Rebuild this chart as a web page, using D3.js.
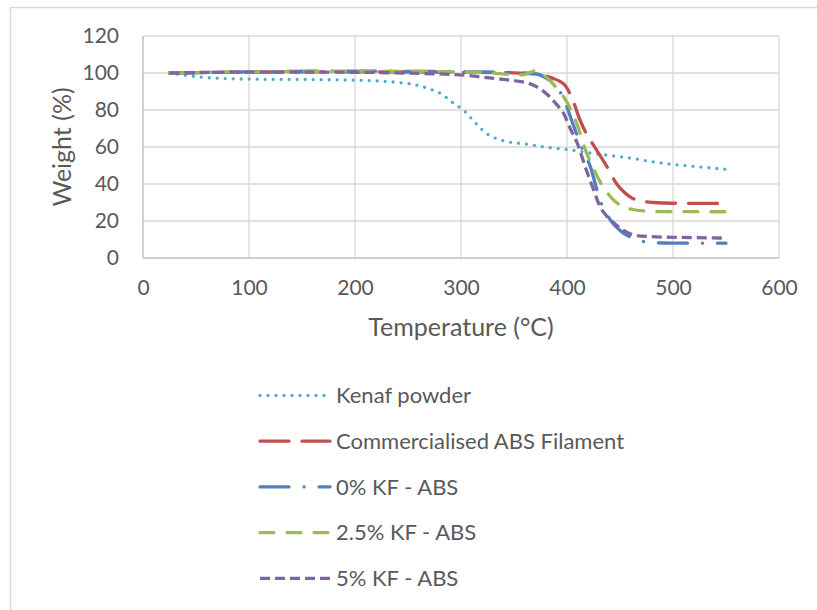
<!DOCTYPE html>
<html>
<head>
<meta charset="utf-8">
<script src="https://cdn.jsdelivr.net/npm/d3@7"></script>
<style>
  body { margin: 0; background: #fff; }
  text { font-family: Lato, "Open Sans", sans-serif; fill: #595959; }
</style>
</head>
<body>
<div id="chart"></div>
<script>
// weight (%) vs temperature (°C)
var kenaf = [[25,100],[38,98.9],[61,97.5],[99,96.7],[170,96.4],[221,95.7],[242,94.8],[258,93.5],[272,91],[282,88.5],
  [291,84.5],[304,79],[314,72.8],[325,67],[340,63.4],[362,61.5],[384,59.6],[400,58.7],[428,56.3],[460,54],
  [481,52],[500,50.6],[520,49.5],[549,48]];
var commercial = [[25,100],[60,100.3],[100,100.5],[200,100.6],[300,100.4],[350,100.1],[370,99.5],[385,97.5],[398,93.5],
  [405,86],[412,75],[418,67.5],[425,61],[436,51],[447,40],[454,35.5],[461,32.5],[470,30.8],[481,30],[500,29.6],[550,29.5]];
var kf0 = [[25,100],[100,100.6],[200,101],[300,100.7],[350,100.3],[370,99.6],[381,97],[390,92.6],[397,86],[404,75],
  [413,61],[422,49.4],[431,31.5],[441,20.5],[452,14],[463,10.5],[475,8.6],[490,8.1],[507,8],[550,8]];
var kf25 = [[25,100],[100,100.6],[200,101],[300,100.6],[330,100],[345,99.2],[358,99],[365,100.3],[370,101.2],[376,99.5],
  [383,96.5],[390,92],[397,87],[403,81],[409,73],[418,57.5],[426,47],[434,38.5],[442,32.5],[450,28.6],[460,26.5],
  [469,25.6],[490,25.1],[550,25]];
var kf5 = [[25,100],[100,100.5],[200,100.4],[250,99.9],[299,99],[320,97.8],[340,96.5],[355,95.5],[368,93.5],[377,90.5],
  [384,87],[391,82.5],[397,78],[403,70],[409,63],[418,48],[425,37],[431,28],[437,23],[444,19],[453,15],[463,12.4],
  [480,11.5],[500,11.2],[550,10.8]];

var names = ["Kenaf powder", "Commercialised ABS Filament", "0% KF - ABS", "2.5% KF - ABS", "5% KF - ABS"];
var xTicks = [0, 100, 200, 300, 400, 500, 600];
var yTicks = [0, 20, 40, 60, 80, 100, 120];

var series = [
  { name: names[0], data: kenaf,      color: "#4bacc6", width: 3.3,  dash: "0 8",            cap: "round" },
  { name: names[1], data: commercial, color: "#c0504d", width: 3.3,  dash: "29 13",          cap: "round" },
  { name: names[2], data: kf0,        color: "#4f81bd", width: 3.3,  dash: "29 15 0.1 15",   cap: "round" },
  { name: names[3], data: kf25,       color: "#9bbb59", width: 3.3,  dash: "14 13",          cap: "round" },
  { name: names[4], data: kf5,        color: "#8064a2", width: 3.3,  dash: "10 5",           cap: "butt" }
];

var svg = d3.select("#chart").append("svg")
    .attr("width", 817)
    .attr("height", 610);

// outer chart border (runs off the right / bottom of the picture)
svg.append("rect")
    .attr("x", 10.5).attr("y", 7.5)
    .attr("width", 830).attr("height", 620)
    .attr("fill", "none")
    .attr("stroke", "#d9d9d9")
    .attr("stroke-width", 1.5);

var x = d3.scaleLinear().domain([0, 600]).range([143, 779]);
var y = d3.scaleLinear().domain([0, 120]).range([258, 36]);

// gridlines
svg.append("g").selectAll("line.h").data(yTicks.slice(1)).enter()
  .append("line")
    .attr("x1", x(0)).attr("x2", x(600))
    .attr("y1", function (d) { return y(d); })
    .attr("y2", function (d) { return y(d); })
    .attr("stroke", "#d9d9d9").attr("stroke-width", 1.3);
svg.append("g").selectAll("line.v").data(xTicks.slice(1)).enter()
  .append("line")
    .attr("x1", function (d) { return x(d); })
    .attr("x2", function (d) { return x(d); })
    .attr("y1", y(0)).attr("y2", y(120))
    .attr("stroke", "#d9d9d9").attr("stroke-width", 1.3);

// axes lines
svg.append("line")
    .attr("x1", x(0)).attr("x2", x(0)).attr("y1", y(0)).attr("y2", y(120))
    .attr("stroke", "#bfbfbf").attr("stroke-width", 1.5);
svg.append("line")
    .attr("x1", x(0)).attr("x2", x(600)).attr("y1", y(0)).attr("y2", y(0))
    .attr("stroke", "#bfbfbf").attr("stroke-width", 1.5);

// tick labels via d3 axes
var xAxis = svg.append("g")
    .attr("transform", "translate(0," + y(0) + ")")
    .call(d3.axisBottom(x).tickValues(xTicks).tickSize(0).tickPadding(22));
var yAxis = svg.append("g")
    .attr("transform", "translate(" + x(0) + ",0)")
    .call(d3.axisLeft(y).tickValues(yTicks).tickSize(0).tickPadding(24));
[xAxis, yAxis].forEach(function (a) {
  a.select(".domain").remove();
  a.selectAll("text")
      .attr("font-family", "Lato, sans-serif")
      .attr("font-size", "21px")
      .attr("fill", "#595959");
});

// axis titles
svg.append("text")
    .attr("x", 461).attr("y", 336)
    .attr("text-anchor", "middle")
    .attr("font-size", "25px")
    .text("Temperature (°C)");
svg.append("text")
    .attr("transform", "translate(71,147) rotate(-90)")
    .attr("text-anchor", "middle")
    .attr("font-size", "25px")
    .text("Weight (%)");

// curves
var line = d3.line()
    .x(function (d) { return x(d[0]); })
    .y(function (d) { return y(d[1]); })
    .curve(d3.curveMonotoneX);

series.forEach(function (s) {
  svg.append("path")
      .attr("d", line(s.data))
      .attr("fill", "none")
      .attr("stroke", s.color)
      .attr("stroke-width", s.width)
      .attr("stroke-dasharray", s.dash)
      .attr("stroke-linecap", s.cap)
      .attr("stroke-linejoin", "round");
});

// legend
var legend = svg.append("g");
series.forEach(function (s, i) {
  var ly = 395.5 + i * 45.7;
  legend.append("line")
      .attr("x1", 260).attr("x2", 330)
      .attr("y1", ly).attr("y2", ly)
      .attr("stroke", s.color)
      .attr("stroke-width", s.width)
      .attr("stroke-dasharray", s.dash)
      .attr("stroke-linecap", s.cap);
  legend.append("text")
      .attr("x", 336).attr("y", ly)
      .attr("dy", "0.35em")
      .attr("font-size", "22px")
      .text(s.name);
});
</script>
</body>
</html>
